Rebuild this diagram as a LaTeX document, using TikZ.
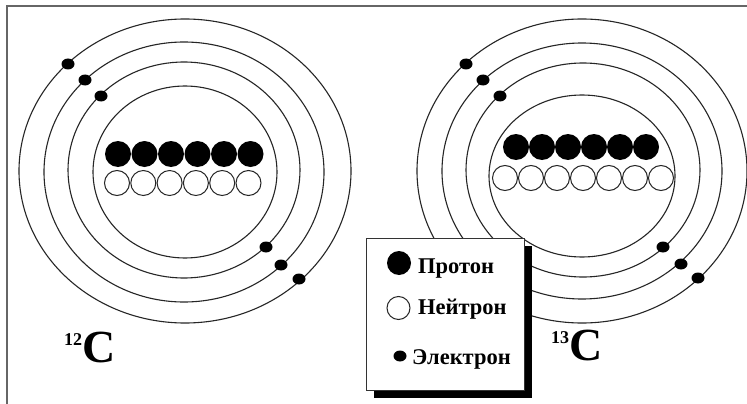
\documentclass[tikz,border=0pt]{standalone}
\usepackage{fontspec}
\setmainfont{Liberation Serif}
\usetikzlibrary{shapes.geometric}
\definecolor{framegray}{gray}{0.4}
\begin{document}
\begin{tikzpicture}[x=1pt,y=-1pt,
  orbit/.style={draw=black!85, line width=1.1pt},
  proton/.style={circle, fill=black, minimum size=26pt, inner sep=0pt},
  neutron/.style={circle, draw=black!85, fill=white, line width=1pt, minimum size=25pt, inner sep=0pt},
  electron/.style={ellipse, fill=black, minimum width=13pt, minimum height=11pt, inner sep=0pt},
  legtext/.style={anchor=base west, inner sep=0pt, font=\fontsize{22.5}{22.5}\selectfont\bfseries},
  isotope/.style={anchor=base west, inner sep=0pt}]
\useasboundingbox (0,0) rectangle (747,404);
\fill[white] (0,0) rectangle (747,404);

% outer frame (only the top and left edges lie inside the page)
\draw[framegray, line width=1.2pt] (747,6) -- (7,6) -- (7,404);

% ---- carbon-12 ----
\draw[orbit] (185,171) ellipse [x radius=166, y radius=152];
\draw[orbit] (184,172) ellipse [x radius=140, y radius=130];
\draw[orbit] (184,170) ellipse [x radius=116, y radius=108];
\draw[orbit] (185,172) ellipse [x radius=92, y radius=86];
\foreach \i in {0,...,5}
  \node[proton] (pA\i) at (118+26.5*\i,154) {};
\foreach \i in {0,...,5}
  \node[neutron] (nA\i) at (117+26.3*\i,183) {};
\node[electron] (eA1) at (68,64) {};
\node[electron] (eA2) at (85,80) {};
\node[electron] (eA3) at (101,96) {};
\node[electron] (eA4) at (266,247) {};
\node[electron] (eA5) at (281,265) {};
\node[electron] (eA6) at (299,279) {};

% ---- carbon-13 ----
\draw[orbit] (582,171) ellipse [x radius=165, y radius=152];
\draw[orbit] (582,171) ellipse [x radius=140, y radius=128];
\draw[orbit] (583,170) ellipse [x radius=117, y radius=107];
\draw[orbit] (582,176) ellipse [x radius=93, y radius=81];
\foreach \i in {0,...,5}
  \node[proton] (pB\i) at (516+26*\i,147) {};
\foreach \i in {0,...,6}
  \node[neutron] (nB\i) at (505+26*\i,178) {};
\node[electron] (eB1) at (466,64) {};
\node[electron] (eB2) at (483,80) {};
\node[electron] (eB3) at (500,96) {};
\node[electron] (eB4) at (663,247) {};
\node[electron] (eB5) at (681,264) {};
\node[electron] (eB6) at (698,278) {};

% ---- legend with drop shadow ----
\node[fill=black, minimum width=158pt, minimum height=152pt, inner sep=0pt, anchor=north west] (shadow) at (374,246) {};
\node[draw=black!80, fill=white, line width=0.8pt, minimum width=158pt, minimum height=152pt, inner sep=0pt, anchor=north west] (legend) at (366,238) {};
\node[proton, minimum size=24pt] (kp) at (399,263) {};
\node[legtext] (tp) at (418,273) {Протон};
\node[neutron, minimum size=23pt] (kn) at (398.5,308) {};
\node[legtext] (tn) at (418,314) {Нейтрон};
\node[electron] (ke) at (400,356) {};
\node[legtext] (te) at (412,364) {Электрон};

% ---- isotope labels ----
\node[isotope] (c12) at (64,362) {\bfseries\fontsize{18}{18}\selectfont\raisebox{17pt}{12}\fontsize{46}{46}\selectfont C};
\node[isotope] (c13) at (551,360) {\bfseries\fontsize{18}{18}\selectfont\raisebox{17pt}{13}\fontsize{46}{46}\selectfont C};
\end{tikzpicture}
\end{document}
